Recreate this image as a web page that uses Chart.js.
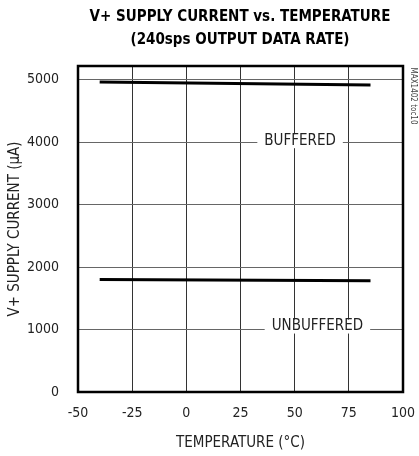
<!DOCTYPE html>
<html>
<head>
<meta charset="utf-8">
<script src="https://cdn.jsdelivr.net/npm/chart.js@4"></script>
<style>
  html, body { margin: 0; padding: 0; background: #fff; }
  #wrap { width: 419px; height: 456px; }
</style>
</head>
<body>
<div id="wrap"><canvas id="supplyChart" width="419" height="456"></canvas></div>
<script>
// data
const temperature = [-40, 85];
const bufferedCurrent = [4965, 4915];
const unbufferedCurrent = [1800, 1780];
const xTicks = [-50, -25, 0, 25, 50, 75, 100];
const yTicks = [0, 1000, 2000, 3000, 4000, 5000];

const FONT = "'Liberation Sans Narrow', 'DejaVu Sans Condensed', 'Liberation Sans', sans-serif";

// curve labels drawn on top of grid lines with a white box
const curveLabels = [
    { text: 'BUFFERED', x: 52.5, y: 4000, dy: -1 },
    { text: 'UNBUFFERED', x: 60.5, y: 1000, dy: -3 }
];

const decorations = {
    id: 'decorations',
    afterDatasetsDraw(chart) {
        const { ctx, chartArea: a, scales } = chart;
        ctx.save();
        // curve labels
        ctx.font = '15px ' + FONT;
        ctx.textAlign = 'center';
        ctx.textBaseline = 'middle';
        curveLabels.forEach(l => {
            const px = scales.x.getPixelForValue(l.x);
            const py = scales.y.getPixelForValue(l.y) + l.dy;
            const w = ctx.measureText(l.text).width;
            ctx.fillStyle = '#fff';
            ctx.fillRect(px - w / 2 - 7, py - 7, w + 14, 14);
            ctx.fillStyle = '#222';
            ctx.fillText(l.text, px, py);
        });
        // frame
        ctx.strokeStyle = '#000';
        ctx.lineWidth = 2.5;
        ctx.strokeRect(a.left, a.top, a.right - a.left, a.bottom - a.top);
        // title
        ctx.fillStyle = '#000';
        ctx.font = 'bold 15px ' + FONT;
        ctx.fillText('V+ SUPPLY CURRENT vs. TEMPERATURE', 240, 17);
        ctx.fillText('(240sps OUTPUT DATA RATE)', 240, 40);
        // side tag
        ctx.font = '8px ' + FONT;
        ctx.fillStyle = '#444';
        ctx.translate(413, 96);
        ctx.rotate(Math.PI / 2);
        ctx.fillText('MAX1402 toc10', 0, 0);
        ctx.restore();
    }
};

const ctx = document.getElementById('supplyChart').getContext('2d');

const supplyChart = new Chart(ctx, {
    type: 'line',
    data: {
        datasets: [
            {
                label: 'BUFFERED',
                data: temperature.map((t, i) => ({ x: t, y: bufferedCurrent[i] })),
                borderColor: '#000',
                borderWidth: 3,
                pointRadius: 0
            },
            {
                label: 'UNBUFFERED',
                data: temperature.map((t, i) => ({ x: t, y: unbufferedCurrent[i] })),
                borderColor: '#000',
                borderWidth: 3,
                pointRadius: 0
            }
        ]
    },
    options: {
        responsive: false,
        animation: false,
        layout: { padding: { top: 66, right: 16, left: 0, bottom: 0 } },
        plugins: {
            legend: { display: false },
            tooltip: { enabled: false }
        },
        scales: {
            x: {
                type: 'linear',
                min: -50,
                max: 100,
                afterBuildTicks: axis => { axis.ticks = xTicks.map(v => ({ value: v })); },
                afterFit: axis => { axis.height = 64; axis.paddingLeft = 0; axis.paddingRight = 0; },
                grid: { color: '#333', lineWidth: 1, drawTicks: false },
                border: { display: false },
                ticks: {
                    color: '#222', font: { family: FONT, size: 14 }, padding: 13, maxRotation: 0,
                    callback: v => String(v)
                },
                title: {
                    display: true,
                    text: 'TEMPERATURE (°C)',
                    color: '#222',
                    font: { family: FONT, size: 15 },
                    padding: { top: 4, bottom: 4 }
                }
            },
            y: {
                min: 0,
                max: 5220,
                afterBuildTicks: axis => { axis.ticks = yTicks.map(v => ({ value: v })); },
                afterFit: axis => { axis.width = 78; axis.paddingTop = 0; axis.paddingBottom = 0; },
                grid: { color: '#666', lineWidth: 1, drawTicks: false },
                border: { display: false },
                ticks: {
                    color: '#222', font: { family: FONT, size: 14 }, padding: 19,
                    callback: v => String(v)
                },
                title: {
                    display: true,
                    text: 'V+ SUPPLY CURRENT (µA)',
                    color: '#222',
                    font: { family: FONT, size: 15 },
                    padding: { top: 6, bottom: 0 }
                }
            }
        }
    },
    plugins: [decorations]
});
</script>
</body>
</html>
